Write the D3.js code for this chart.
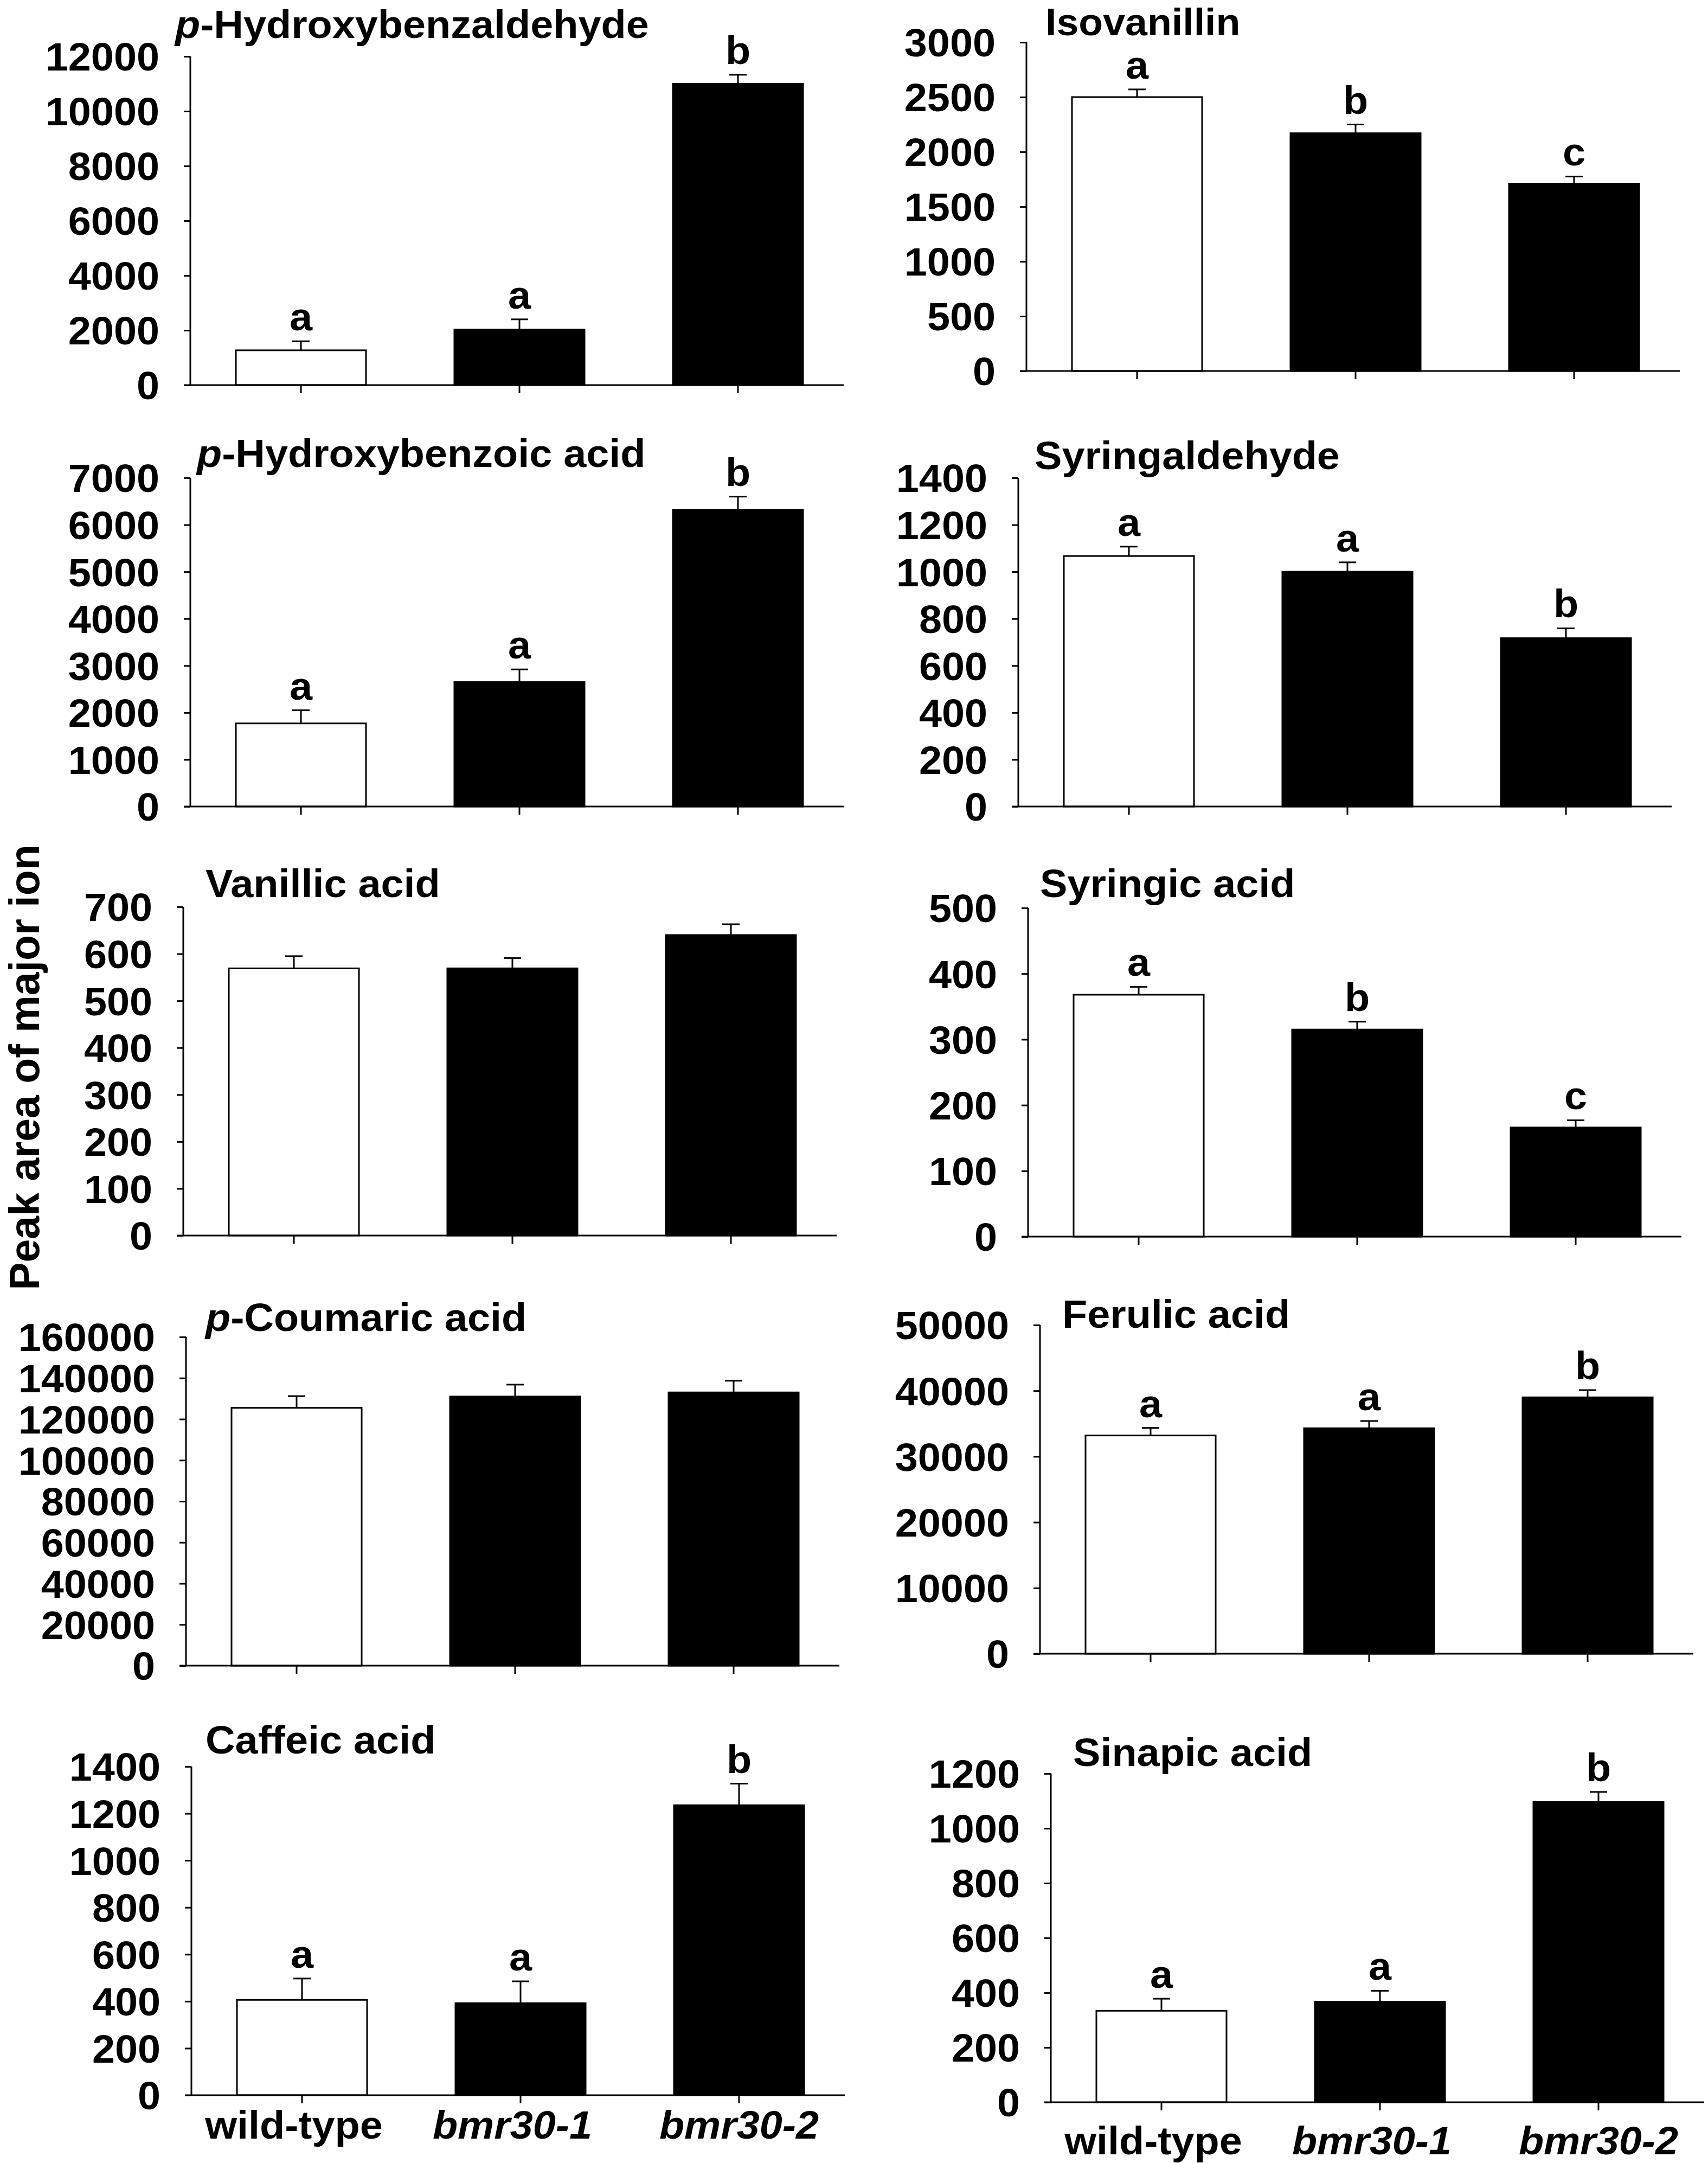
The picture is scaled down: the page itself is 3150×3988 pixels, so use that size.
<!DOCTYPE html>
<html>
<head>
<meta charset="utf-8">
<script src="https://cdn.jsdelivr.net/npm/d3@7"></script>
<style>
  body { margin: 0; background: #fff; }
  svg { display: block; }
  text { font-family: "Liberation Sans", Arial, sans-serif; font-weight: bold; fill: #000; }
</style>
</head>
<body>
<div id="chart"></div>
<script>
/* ---------------------------------------------------- +/
## Peak areas of phenolic compounds ##
/+ ---------------------------------------------------- */

// Data
var groups = ["wild-type", "bmr30-1", "bmr30-2"];
var compounds = [
    [["p", true], ["-Hydroxybenzaldehyde", false]],
    [["Isovanillin", false]],
    [["p", true], ["-Hydroxybenzoic acid", false]],
    [["Syringaldehyde", false]],
    [["Vanillic acid", false]],
    [["Syringic acid", false]],
    [["p", true], ["-Coumaric acid", false]],
    [["Ferulic acid", false]],
    [["Caffeic acid", false]],
    [["Sinapic acid", false]]
];
var means = [
    [1270, 2030, 11000],
    [2500, 2170, 1710],
    [1770, 2650, 6320],
    [1067, 1000, 717],
    [569, 569, 640],
    [368, 315, 166],
    [125500, 131000, 133000],
    [33200, 34300, 39000],
    [406, 392, 1235],
    [334, 367, 1096]
];
var errors = [
    [330, 370, 330],
    [70, 80, 65],
    [280, 270, 280],
    [40, 40, 42],
    [26, 22, 23],
    [12, 12, 11],
    [5700, 5800, 5700],
    [1150, 1100, 1100],
    [91, 93, 92],
    [44, 40, 37]
];
var letters = [
    ["a", "a", "b"],
    ["a", "b", "c"],
    ["a", "a", "b"],
    ["a", "a", "b"],
    [],
    ["a", "b", "c"],
    [],
    ["a", "a", "b"],
    ["a", "a", "b"],
    ["a", "a", "b"]
];
var yMax = [12000, 3000, 7000, 1400, 700, 500, 160000, 50000, 1400, 1200];
var yStep = [2000, 500, 1000, 200, 100, 100, 20000, 10000, 200, 200];
var yLabel = "Peak area of major ion";

// Layout of each panel (pixels)
var axisX = [351, 1893, 351, 1878, 338, 1896, 343, 1918, 353, 1938];
var zeroY = [710, 684, 1487, 1487, 2278, 2280, 3071, 3049, 3863, 3876];
var titleDx = [-28, 35, 12, 30, 41, 22, 36, 41, 26, 41];
var titleDy = [-34, -13, -20, -16, -18, -20, -11, 5, -24, -14];
var titleSize = [72, 70, 72, 72, 72, 72, 72, 72, 72, 72];
var xLabelDy = [0, 0, 0, 0, 0, 0, 0, 0, 80, 96];

var width = 3150;
var height = 3988;
var plotH = 606;
var step = 403;
var barW = 240;
var firstBar = 84;
var axisLen = 1205;
var fontSize = 72;
var sx = 1.05; // text in the figure is a little wide
var stroke = 3;

var svg = d3.select("#chart").append("svg")
    .attr("width", width)
    .attr("height", height);

svg.append("rect")
    .attr("width", width)
    .attr("height", height)
    .attr("fill", "#fff");

// Stretched text helper
function stretchText(parent, x, y, anchor, size) {
    return parent.append("g")
        .attr("transform", "translate(" + x + "," + y + ")")
        .append("text")
        .attr("transform", "scale(" + sx + ",1)")
        .attr("text-anchor", anchor)
        .style("font-size", size + "px");
}

compounds.forEach(function (title, i) {
    var ax = axisX[i];
    var y0 = zeroY[i];
    var pi = (step - barW) / step;
    var po = firstBar / step;

    var x = d3.scaleBand()
        .domain(groups)
        .range([ax, ax + step * (groups.length - pi + 2 * po)])
        .paddingInner(pi)
        .paddingOuter(po);

    var y = d3.scaleLinear()
        .domain([0, yMax[i]])
        .range([y0, y0 - plotH]);

    var g = svg.append("g").attr("class", "panel");

    // Bars
    g.selectAll(".bar")
        .data(groups)
        .enter().append("rect")
        .attr("class", "bar")
        .attr("x", function (d) { return x(d); })
        .attr("y", function (d, j) { return y(means[i][j]); })
        .attr("width", x.bandwidth())
        .attr("height", function (d, j) { return y0 - y(means[i][j]); })
        .attr("fill", function (d, j) { return j === 0 ? "#fff" : "#000"; })
        .attr("stroke", "#000")
        .attr("stroke-width", stroke);

    // Error bars (upper only)
    var err = g.selectAll(".err")
        .data(groups)
        .enter().append("g")
        .attr("class", "err");

    err.append("line")
        .attr("x1", function (d) { return x(d) + x.bandwidth() / 2; })
        .attr("x2", function (d) { return x(d) + x.bandwidth() / 2; })
        .attr("y1", function (d, j) { return y(means[i][j]); })
        .attr("y2", function (d, j) { return y(means[i][j] + errors[i][j]); })
        .attr("stroke", "#000")
        .attr("stroke-width", stroke);

    err.append("line")
        .attr("x1", function (d) { return x(d) + x.bandwidth() / 2 - 16; })
        .attr("x2", function (d) { return x(d) + x.bandwidth() / 2 + 16; })
        .attr("y1", function (d, j) { return y(means[i][j] + errors[i][j]); })
        .attr("y2", function (d, j) { return y(means[i][j] + errors[i][j]); })
        .attr("stroke", "#000")
        .attr("stroke-width", stroke);

    // Significance letters
    letters[i].forEach(function (l, j) {
        stretchText(g, x(groups[j]) + x.bandwidth() / 2,
                y(means[i][j] + errors[i][j]) - 20, "middle", fontSize)
            .text(l);
    });

    // Y axis
    var yAxis = d3.axisLeft(y)
        .tickValues(d3.range(0, yMax[i] + 1, yStep[i]))
        .tickFormat(d3.format("d"))
        .tickSize(12)
        .tickPadding(0);

    var ya = g.append("g")
        .attr("transform", "translate(" + ax + ",0)")
        .call(yAxis);
    ya.select(".domain").remove();
    ya.append("line")
        .attr("x1", 0).attr("x2", 0)
        .attr("y1", y0).attr("y2", y0 - plotH)
        .attr("stroke", "#000")
        .attr("stroke-width", stroke);
    ya.selectAll(".tick line")
        .attr("stroke", "#000")
        .attr("stroke-width", stroke);
    ya.selectAll(".tick text")
        .attr("x", -57 / sx)
        .attr("dy", "0.36em")
        .attr("transform", "scale(" + sx + ",1)")
        .attr("fill", "#000")
        .style("font-size", fontSize + "px");
    ya.attr("font-family", null).attr("font-size", null);

    // X axis
    g.append("line")
        .attr("x1", ax - 12)
        .attr("x2", Math.min(ax + axisLen, width))
        .attr("y1", y0).attr("y2", y0)
        .attr("stroke", "#000")
        .attr("stroke-width", stroke);

    g.selectAll(".xtick")
        .data(groups)
        .enter().append("line")
        .attr("class", "xtick")
        .attr("x1", function (d) { return x(d) + x.bandwidth() / 2; })
        .attr("x2", function (d) { return x(d) + x.bandwidth() / 2; })
        .attr("y1", y0)
        .attr("y2", y0 + 15)
        .attr("stroke", "#000")
        .attr("stroke-width", stroke);

    // Group labels, bottom row only
    if (xLabelDy[i] > 0) {
        groups.forEach(function (d, j) {
            stretchText(g, x(d) + x.bandwidth() / 2 - (j < 2 ? 15 : 0),
                    y0 + xLabelDy[i], "middle", fontSize)
                .style("font-style", j === 0 ? "normal" : "italic")
                .text(d);
        });
    }

    // Title
    var t = stretchText(g, ax + titleDx[i], y0 - plotH + titleDy[i], "start", titleSize[i]);
    title.forEach(function (part) {
        t.append("tspan")
            .style("font-style", part[1] ? "italic" : "normal")
            .text(part[0]);
    });
});

// Shared y-axis title
svg.append("text")
    .attr("transform", "translate(72,1968) rotate(-90)")
    .attr("text-anchor", "middle")
    .style("font-size", "77px")
    .text(yLabel);
</script>
</body>
</html>
